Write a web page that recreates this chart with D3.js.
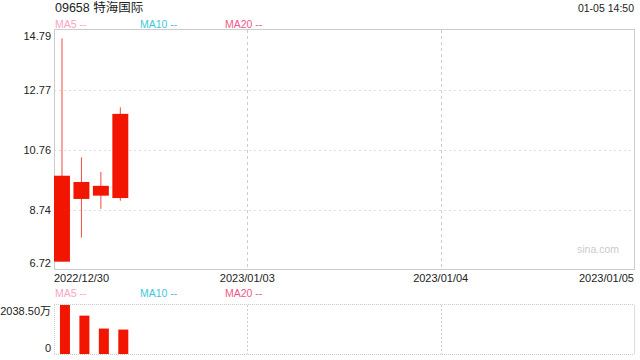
<!DOCTYPE html>
<html lang="zh">
<head>
  <meta charset="UTF-8">
  <title>09658 特海国际</title>
  <script src="https://d3js.org/d3.v7.min.js"></script>
  <style>
    body { margin: 0; background: #fff; }
    text { font-family: "Liberation Sans", Arial, "Noto Sans CJK SC", sans-serif; }
  </style>
</head>
<body>
  <svg id="kline" width="640" height="360"></svg>
  <script>
    // data
    const dates = ['2022/12/30', '2023/01/03', '2023/01/04', '2023/01/05'];
    const opens = [7.00, 9.11, 9.22, 9.14];
    const closes = [9.89, 9.68, 9.55, 11.97];
    const highs = [14.51, 10.51, 10.02, 12.19];
    const lows = [7.00, 7.81, 8.78, 9.05];
    const volumes = [2038.5, 1596, 1058, 1017];   // 万
    const priceTicks = [6.72, 8.74, 10.76, 12.77, 14.79];
    const volTicks = [0, 2038.5];
    const axisDates = ['2022/12/30', '2023/01/03', '2023/01/04', '2023/01/05'];
    const slots = 30;

    const svg = d3.select('#kline');
    const left = 54, right = 634;
    const red = '#f21500';

    const x = d3.scaleBand().domain(d3.range(slots)).range([left, right]).paddingInner(0.18).paddingOuter(0).align(0);
    const xDates = d3.scalePoint().domain(axisDates).range([left, right]);
    const y = d3.scaleLinear().domain([6.72, 14.79]).range([270, 30]);
    const yv = d3.scaleLinear().domain([0, 2038.5]).range([354, 305]);

    // header
    svg.append('text').attr('x', 55).attr('y', 12).attr('font-size', 12.5).attr('fill', '#222')
      .text('09658 特海国际');
    svg.append('text').attr('x', 634).attr('y', 12).attr('font-size', 10.5).attr('fill', '#222')
      .attr('text-anchor', 'end').text('01-05 14:50');

    function legend(yy) {
      const items = [['MA5 --', '#f9a3c6', 55], ['MA10 --', '#3ec8df', 140], ['MA20 --', '#f2578b', 225]];
      items.forEach(d => {
        svg.append('text').attr('x', d[2]).attr('y', yy).attr('font-size', 10.5)
          .attr('fill', d[1]).text(d[0]);
      });
    }
    legend(28);
    legend(297);

    // main price panel
    const grid = svg.append('g');
    grid.selectAll('line.h').data(priceTicks.slice(1, -1)).join('line')
      .attr('x1', left).attr('x2', right)
      .attr('y1', d => Math.round(y(d)) + 0.5).attr('y2', d => Math.round(y(d)) + 0.5)
      .attr('stroke', '#ddd').attr('stroke-dasharray', '2,3');
    grid.selectAll('line.v').data(axisDates.slice(1, -1)).join('line')
      .attr('x1', d => Math.round(xDates(d)) + 0.5).attr('x2', d => Math.round(xDates(d)) + 0.5)
      .attr('y1', 30).attr('y2', 270)
      .attr('stroke', '#ccc').attr('stroke-dasharray', '3,3');
    svg.append('rect').attr('x', left + 0.5).attr('y', 29.5).attr('width', right - left).attr('height', 240)
      .attr('fill', 'none').attr('stroke', '#ccc');

    svg.append('text').attr('x', 619).attr('y', 253).attr('font-size', 10.5).attr('fill', '#ccc')
      .attr('text-anchor', 'end').text('sina.com');

    svg.selectAll('text.py').data(priceTicks).join('text').attr('class', 'py')
      .attr('x', 51).attr('y', d => Math.max(36, Math.min(263, y(d))))
      .attr('dy', '0.35em').attr('text-anchor', 'end').attr('font-size', 11).attr('fill', '#222')
      .text(d => d.toFixed(2));

    svg.selectAll('text.xd').data(axisDates).join('text').attr('class', 'xd')
      .attr('x', d => xDates(d)).attr('y', 282)
      .attr('text-anchor', (d, i) => i === 0 ? 'start' : (i === axisDates.length - 1 ? 'end' : 'middle'))
      .attr('font-size', 11).attr('fill', '#222').text(d => d);

    const candles = svg.append('g');
    const idx = d3.range(dates.length);
    candles.selectAll('line.wick').data(idx).join('line')
      .attr('x1', i => x(i) + x.bandwidth() / 2).attr('x2', i => x(i) + x.bandwidth() / 2)
      .attr('y1', i => y(highs[i])).attr('y2', i => y(lows[i]))
      .attr('stroke', '#f44a3a').attr('stroke-width', 1);
    candles.selectAll('rect.body').data(idx).join('rect')
      .attr('x', i => x(i)).attr('width', x.bandwidth())
      .attr('y', i => y(Math.max(opens[i], closes[i])))
      .attr('height', i => Math.max(1, Math.abs(y(opens[i]) - y(closes[i]))))
      .attr('fill', red);

    // volume panel
    svg.selectAll('line.vh').data([304.5, 354.5]).join('line')
      .attr('x1', left).attr('x2', right).attr('y1', d => d).attr('y2', d => d)
      .attr('stroke', '#ccc').attr('stroke-dasharray', '1,1');
    svg.append('line').attr('x1', left + 0.5).attr('x2', left + 0.5).attr('y1', 305).attr('y2', 354)
      .attr('stroke', '#ccc').attr('stroke-dasharray', '1,1');
    svg.append('line').attr('x1', right + 0.5).attr('x2', right + 0.5).attr('y1', 304.5).attr('y2', 354.5)
      .attr('stroke', '#ddd');
    svg.selectAll('line.vv').data(axisDates.slice(1, -1)).join('line')
      .attr('x1', d => Math.round(xDates(d)) + 0.5).attr('x2', d => Math.round(xDates(d)) + 0.5)
      .attr('y1', 305).attr('y2', 354)
      .attr('stroke', '#ccc').attr('stroke-dasharray', '2,2');

    svg.selectAll('text.vy').data(volTicks).join('text').attr('class', 'vy')
      .attr('x', 51).attr('y', d => Math.max(311, Math.min(348, yv(d))))
      .attr('dy', '0.35em').attr('text-anchor', 'end').attr('font-size', 11).attr('fill', '#222')
      .text(d => d === 0 ? '0' : d.toFixed(2) + '万');

    svg.selectAll('rect.vol').data(idx).join('rect')
      .attr('x', i => x(i) + x.bandwidth() - 10).attr('width', 10)
      .attr('y', i => yv(volumes[i])).attr('height', i => yv(0) - yv(volumes[i]))
      .attr('fill', red);
  </script>
</body>
</html>
